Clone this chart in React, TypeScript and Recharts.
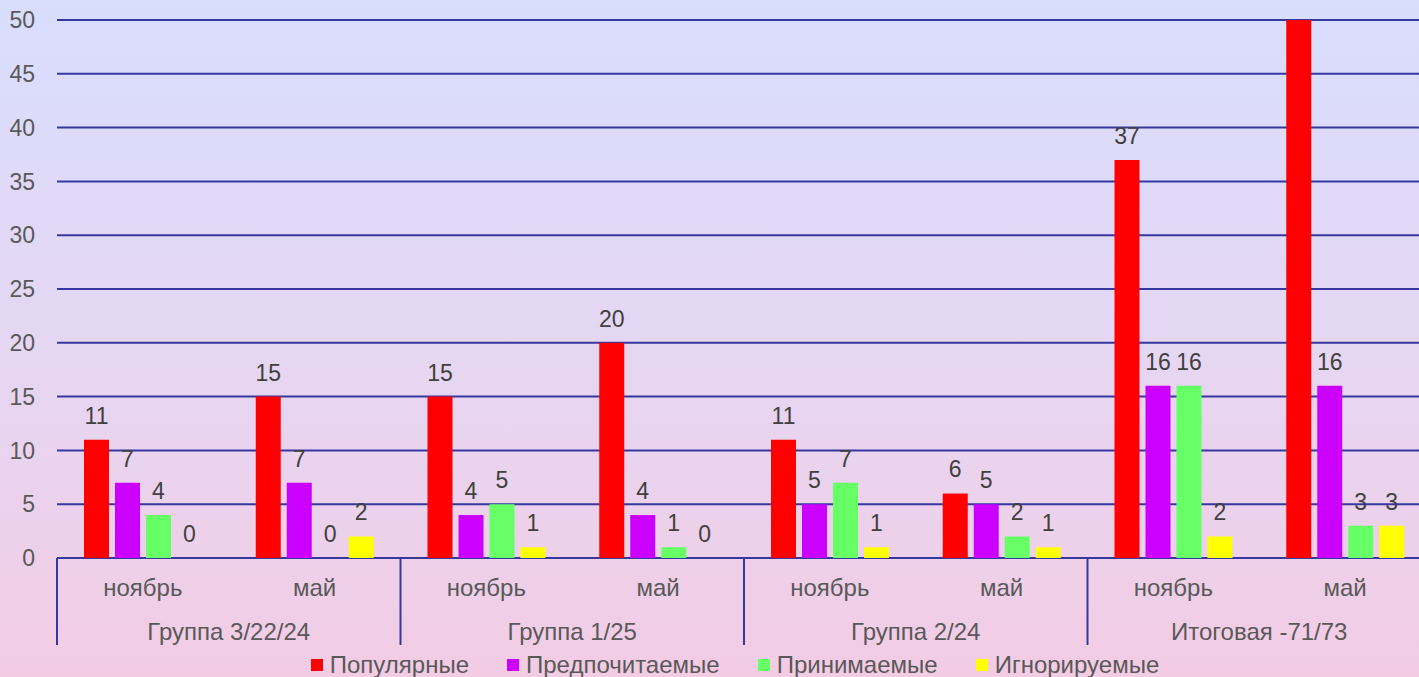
import React from 'react';
import { BarChart, Bar, XAxis, YAxis, CartesianGrid, LabelList } from 'recharts';

const months = ['ноябрь', 'май', 'ноябрь', 'май', 'ноябрь', 'май', 'ноябрь', 'май'];
const groups = [
  'Группа 3/22/24', 'Группа 3/22/24',
  'Группа 1/25', 'Группа 1/25',
  'Группа 2/24', 'Группа 2/24',
  'Итоговая -71/73', 'Итоговая -71/73',
];
const popular = [11, 15, 15, 20, 11, 6, 37, 51];
const preferred = [7, 7, 4, 4, 5, 5, 16, 16];
const accepted = [4, 0, 5, 1, 7, 2, 16, 3];
const ignored = [0, 2, 1, 0, 1, 1, 2, 3];
const yTicks = [0, 5, 10, 15, 20, 25, 30, 35, 40, 45, 50];
const seriesKeys = ['popular', 'preferred', 'accepted', 'ignored'];
const seriesNames = ['Популярные', 'Предпочитаемые', 'Принимаемые', 'Игнорируемые'];
const seriesColors = ['#FF0000', '#CC00FF', '#66FF66', '#FFFF00'];

const data = months.map((m, i) => ({
  month: m,
  group: groups[i],
  popular: popular[i],
  preferred: preferred[i],
  accepted: accepted[i],
  ignored: ignored[i],
}));

const W = 1419;
const H = 677;
const CHART_W = 1431;
const Y_W = 57;
const Y_MAX = 50;
const BAND = (CHART_W - Y_W) / months.length;
const FONT = "'Liberation Sans', Arial, sans-serif";
const AXIS_TEXT = '#595959';
const GRID = '#3638A0';

const MonthTick = (props: any) => {
  const { x, y, payload, index } = props;
  const i = typeof index === 'number' ? index : payload.index;
  const half = BAND / 2;
  const isGroupStart = i % 2 === 0;
  return (
    <g>
      <text x={x} y={y + 38} textAnchor="middle" fill={AXIS_TEXT} fontSize={24} fontFamily={FONT}>
        {payload.value}
      </text>
      {isGroupStart && (
        <line x1={x - half} x2={x - half} y1={y} y2={y + 87} stroke={GRID} strokeWidth={2} />
      )}
      {isGroupStart && (
        <text x={x + half} y={y + 82} textAnchor="middle" fill={AXIS_TEXT} fontSize={24} fontFamily={FONT}>
          {groups[i]}
        </text>
      )}
      {i === months.length - 1 && (
        <line x1={x + half} x2={x + half} y1={y} y2={y + 87} stroke={GRID} strokeWidth={2} />
      )}
    </g>
  );
};

const fmt = (v: any) => (Number(v) > Y_MAX ? '' : String(v));
const minSize = (v: any) => (Number(v) === 0 ? 0.01 : 0);

export default function App() {
  return (
    <div
      style={{
        position: 'absolute',
        left: 0,
        top: 0,
        width: W,
        height: H,
        overflow: 'hidden',
        background: 'linear-gradient(to bottom, #D9DEFE 0%, #E6D6F2 55%, #F3CCE4 100%)',
        fontFamily: FONT,
      }}
    >
      <BarChart
        width={CHART_W}
        height={H}
        data={data}
        margin={{ top: 20, right: 0, bottom: 29, left: 0 }}
        barSize={25}
        barGap={6}
      >
        <CartesianGrid vertical={false} stroke={GRID} strokeWidth={2} />
        <YAxis
          width={Y_W}
          domain={[0, Y_MAX]}
          ticks={yTicks}
          allowDataOverflow
          axisLine={false}
          tickLine={false}
          tickSize={0}
          tickMargin={22}
          tick={{ fill: AXIS_TEXT, fontSize: 23, fontFamily: FONT }}
        />
        <XAxis
          dataKey="month"
          height={90}
          interval={0}
          axisLine={false}
          tickLine={false}
          tickSize={0}
          tickMargin={0}
          tick={<MonthTick />}
        />
        {seriesKeys.map((k, si) => (
          <Bar
            key={k}
            dataKey={k}
            name={seriesNames[si]}
            fill={seriesColors[si]}
            minPointSize={minSize}
            isAnimationActive={false}
          >
            <LabelList
              dataKey={k}
              position="top"
              offset={16}
              formatter={fmt}
              fill="#404040"
              fontSize={23}
              fontFamily={FONT}
            />
          </Bar>
        ))}
      </BarChart>
      <div
        style={{
          position: 'absolute',
          left: 0,
          top: 652,
          width: 1470,
          display: 'flex',
          justifyContent: 'center',
          alignItems: 'center',
          gap: 38,
          fontSize: 24,
          lineHeight: '26px',
          color: AXIS_TEXT,
          fontFamily: FONT,
        }}
      >
        {seriesNames.map((n, i) => (
          <div key={n} style={{ display: 'flex', alignItems: 'center' }}>
            <span style={{ display: 'inline-block', width: 12, height: 12, background: seriesColors[i], marginRight: 7 }} />
            <span>{n}</span>
          </div>
        ))}
      </div>
    </div>
  );
}
